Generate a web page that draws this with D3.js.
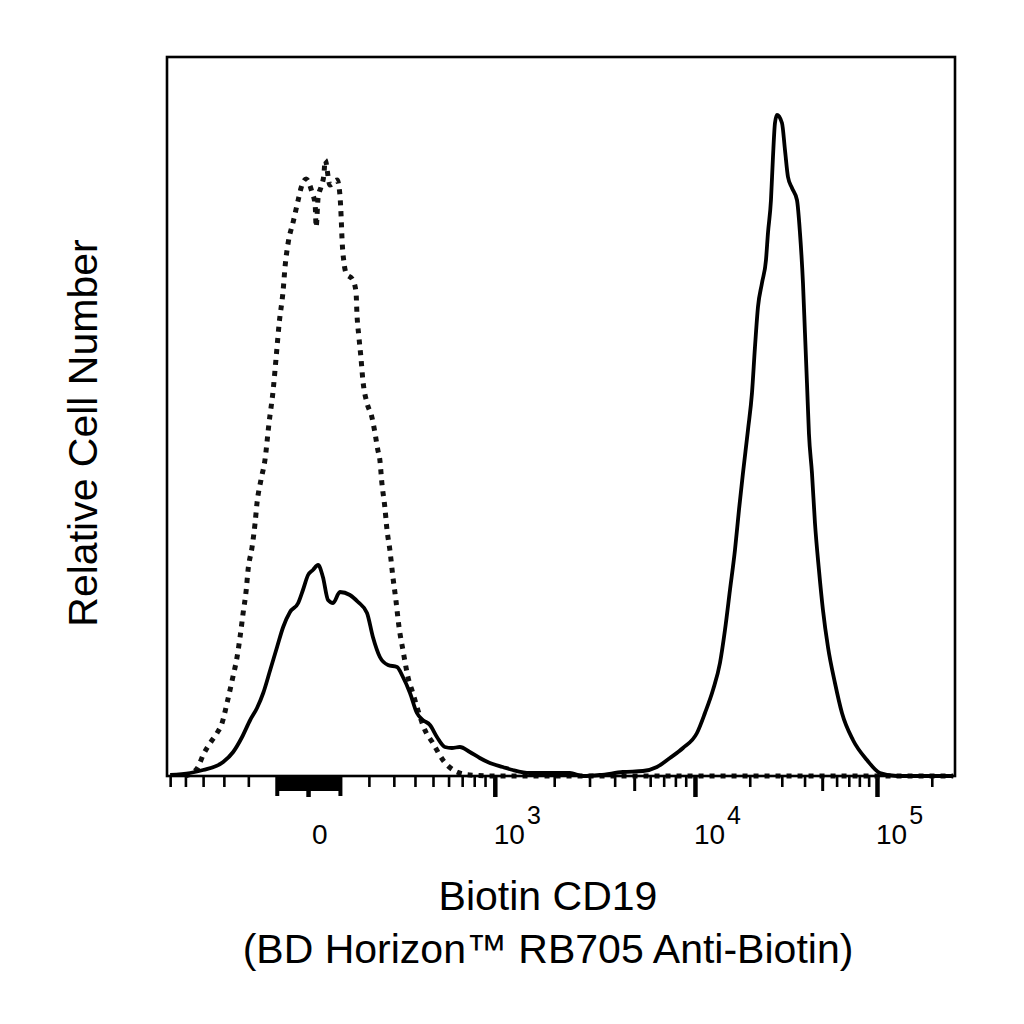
<!DOCTYPE html>
<html>
<head>
<meta charset="utf-8">
<script src="https://cdn.jsdelivr.net/npm/d3@7"></script>
<style>
  body { margin: 0; background: #fff; }
  text { font-family: "Liberation Sans", Arial, sans-serif; fill: #000; }
</style>
</head>
<body>
<script>
"use strict";

// unstained control (dotted), fluorescence vs relative count
var ctrlX = [-502, -460, -427, -400, -364, -331, -308, -286, -264, -244,
  -232, -220, -208, -201, -186, -175, -168, -154, -140, -126,
  -112, -102, -92, -79, -73, -63, -47, -31, -22, -6,
  12, 22, 25, 31, 40, 49, 53, 68, 91, 100,
  104, 107, 113, 120, 143, 154, 157, 164, 171, 178,
  193, 211, 223, 234, 242, 250, 262, 271, 283, 296,
  309, 323, 341, 365, 389, 415, 453, 499, 562, 659,
  762, 1000, 262144];
var ctrlY = [0, 3, 9, 21, 33, 43, 53, 73, 96, 119,
  139, 163, 186, 206, 229, 253, 273, 296, 316, 353,
  386, 419, 453, 486, 509, 533, 554, 576, 588, 597,
  584, 571, 549, 578, 589, 601, 616, 591, 596, 581,
  559, 536, 514, 503, 496, 484, 463, 439, 419, 396,
  373, 359, 343, 326, 316, 293, 269, 246, 226, 199,
  176, 149, 126, 99, 83, 66, 46, 33, 16, 4,
  1, 0, 0];

// Biotin CD19 + RB705 anti-biotin (solid)
var stainX = [-600, -472, -400, -303, -260, -224, -193, -168, -146, -122,
  -99, -79, -57, -31, -16, 0, 15, 31, 46, 62,
  78, 100, 133, 161, 193, 215, 242, 275, 314, 341,
  375, 410, 442, 482, 524, 575, 623, 682, 762, 850,
  948, 1099, 1237, 1508, 2395, 2780, 3378, 4394, 5524, 6481,
  7515, 8722, 10256, 11350, 12559, 13723, 14619, 15573, 16590, 17451,
  18357, 19557, 20572, 21368, 22194, 23346, 24558, 25187, 26160, 26830,
  27518, 28223, 30068, 31230, 32439, 34122, 36345, 37755, 39210, 40215,
  41246, 42300, 43935, 45630, 48000, 50490, 53790, 58770, 64215, 73800,
  88095, 103830, 128745, 262144];
var stainY = [1, 3, 6, 14, 24, 39, 56, 68, 83, 106,
  129, 149, 164, 173, 186, 201, 206, 211, 199, 176,
  173, 184, 181, 174, 163, 139, 119, 111, 109, 99,
  83, 63, 56, 51, 39, 29, 28, 29, 24, 18,
  13, 9, 6, 3, 3, 0, 1, 4, 5, 9,
  18, 28, 43, 63, 86, 113, 146, 186, 226, 266,
  303, 346, 383, 429, 469, 493, 516, 543, 576, 619,
  653, 661, 653, 626, 599, 588, 576, 543, 493, 443,
  393, 342, 303, 253, 206, 166, 129, 93, 63, 36,
  16, 3, 0, 0];

var majorTicks = [0, 1e3, 1e4, 1e5];
var tickBase = ["0", "10", "10", "10"];
var tickExp = ["", "3", "4", "5"];
var yMax = 719;

var xTitle = "Biotin CD19";
var xSubTitle = "(BD Horizon\u2122 RB705 Anti-Biotin)";
var yTitle = "Relative Cell Number";

var m = [57, 69, 248, 167], // top right bottom left
    w = 1024 - m[1] - m[3],
    h = 1024 - m[0] - m[2];

// biexponential-like display: asinh transform, calibrated at the decades
var W = 300;
function tf(v) { return Math.asinh(v / W); }
var calib = [-600, 0, 1e3, 1e4, 1e5],
    calibFrac = [0.004, 0.179, 0.416, 0.670, 0.901];
var xt = d3.scaleLinear().domain(calib.map(tf)).range(calibFrac.map(function(f) { return f * w; }));
function x(v) { return xt(tf(v)); }

var y = d3.scaleLinear().domain([0, yMax]).range([h, 0]);

var svg = d3.select("body").append("svg")
    .attr("width", 1024)
    .attr("height", 1024);
var g = svg.append("g").attr("transform", "translate(" + m[3] + "," + m[0] + ")");

// tick sets
var minor = [], medium = [], nearZero = [], big = [];
[-600, -500, -400, -300, -200].forEach(function(v) { minor.push(v); });
for (var k = -90; k <= 90; k += 10) if (k !== 0) nearZero.push(k);
big.push(-100, 100);
[100, 1000, 10000, 100000].forEach(function(d) {
  for (var i = 2; i <= 9; i++) {
    var v = d * i;
    if (v > 262144) break;
    if (i === 5 && d > 100) medium.push(v); else minor.push(v);
  }
});

function tickAxis(vals, len, sw) {
  var axis = d3.axisBottom(xt)
      .tickValues(vals.map(tf))
      .tickSize(len)
      .tickFormat("");
  var ga = g.append("g")
      .attr("transform", "translate(0," + h + ")")
      .call(axis);
  ga.select(".domain").remove();
  ga.selectAll("line").attr("stroke-width", sw);
}
tickAxis(minor, 11, 2.6);
tickAxis(medium, 15, 3);
tickAxis(nearZero, 15, 4.2);
tickAxis(big, 20, 4);
tickAxis(majorTicks, 21, 4.5);

// tick labels
var lab = g.selectAll(".tlab")
    .data(majorTicks)
  .enter().append("text")
    .attr("class", "tlab")
    .attr("x", function(d) { return x(d) + (d === 0 ? 4 : -1); })
    .attr("y", h + 68)
    .style("font-size", "28px")
    .style("text-anchor", "start");
lab.append("tspan").text(function(d, i) { return tickBase[i]; });
lab.append("tspan")
    .attr("dx", 2)
    .attr("dy", -20)
    .style("font-size", "25px")
    .text(function(d, i) { return tickExp[i]; });

// histograms
var line = d3.line()
    .x(function(d) { return x(d[0]); })
    .y(function(d) { return y(d[1]); })
    .curve(d3.curveMonotoneX);

g.append("path")
    .datum(d3.zip(ctrlX, ctrlY))
    .attr("fill", "none")
    .attr("stroke", "#111")
    .attr("stroke-width", 5)
    .attr("stroke-dasharray", "5 6")
    .attr("d", line);

g.append("path")
    .datum(d3.zip(stainX, stainY))
    .attr("fill", "none")
    .attr("stroke", "#000")
    .attr("stroke-width", 3.8)
    .attr("stroke-linejoin", "round")
    .attr("d", line);

// frame
g.append("rect")
    .attr("width", w)
    .attr("height", h)
    .attr("fill", "none")
    .attr("stroke", "#000")
    .attr("stroke-width", 2.6);

// titles
svg.append("text")
    .attr("x", 548)
    .attr("y", 910)
    .style("font-size", "41px")
    .style("text-anchor", "middle")
    .text(xTitle);
svg.append("text")
    .attr("x", 548)
    .attr("y", 963)
    .style("font-size", "41px")
    .style("text-anchor", "middle")
    .text(xSubTitle);
svg.append("text")
    .attr("transform", "translate(97,433) rotate(-90)")
    .style("font-size", "41px")
    .style("text-anchor", "middle")
    .text(yTitle);
</script>
</body>
</html>
